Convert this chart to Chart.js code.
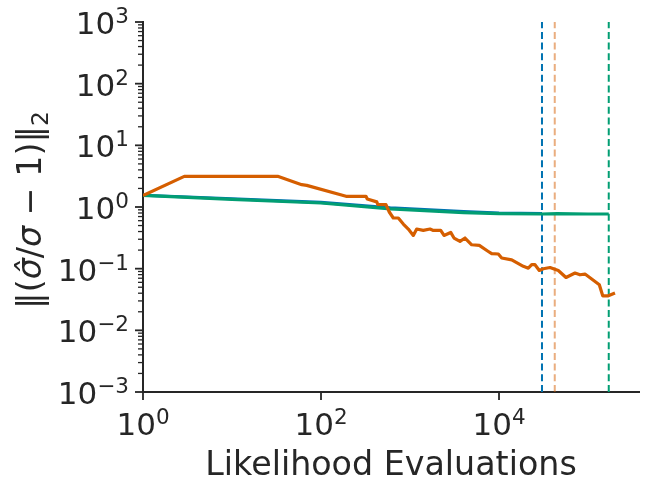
<!DOCTYPE html>
<html>
<head>
<meta charset="utf-8">
<script src="https://cdn.jsdelivr.net/npm/chart.js@4.4.1/dist/chart.umd.min.js"></script>
<style>
    html, body { margin: 0; padding: 0; background: #fff; }
</style>
</head>
<body>
<canvas id="chart" width="648" height="487"></canvas>
<script>
// Data (log-log)
const orangeX = [1, 2.91, 32.6, 60.7, 69.1, 191, 320, 331, 423, 434, 537, 585, 649, 739, 841, 957,
    1089, 1189, 1410, 1678, 1828, 2213, 2410, 2866, 3121, 3645, 4150, 4932, 6010, 7585, 8280, 9820,
    10720, 13890, 18760, 21340, 23290, 25370, 28370, 31470, 37410, 46370, 56580, 71450, 81300,
    92500, 119900, 134000, 146300, 169200, 201000]
const orangeY = [1.54, 3.14, 3.14, 2.30, 2.24, 1.49, 1.49, 1.35, 1.21, 1.10, 1.09, 0.83, 0.663, 0.663,
    0.530, 0.439, 0.346, 0.439, 0.417, 0.439, 0.417, 0.417, 0.346, 0.387, 0.314, 0.277, 0.314, 0.244,
    0.238, 0.190, 0.175, 0.173, 0.149, 0.139, 0.109, 0.102, 0.116, 0.116, 0.0935, 0.0996, 0.1045,
    0.0935, 0.0720, 0.0849, 0.0796, 0.0817, 0.0620, 0.0548, 0.0363, 0.0363, 0.0402]

const blueX = [1, 10, 100, 600, 4000, 10000, 30400]
const blueY = [1.55, 1.36, 1.19, 0.965, 0.84, 0.80, 0.785]

const greenX = [1, 10, 100, 600, 4000, 10000, 30000, 45000, 100000, 171000]
const greenY = [1.54, 1.33, 1.16, 0.93, 0.81, 0.78, 0.77, 0.78, 0.77, 0.77]

// vertical dashed markers (blue, light orange, green)
const vlineX = [30400, 42300, 171000]

const xTickExp = [0, 2, 4]
const yTickExp = [-3, -2, -1, 0, 1, 2, 3]

const xLabel = 'Likelihood Evaluations'

const INK = '#262626'
const FONT = '"DejaVu Sans"'
const TICK_SIZE = 31
const SUP_SIZE = 21.5
const SUP_RAISE = 11
const LABEL_SIZE = 33.3

function toPoints(xs, ys) {
    return xs.map((x, i) => ({ x: x, y: ys[i] }))
}

function vline(x, color, order) {
    return {
        data: [{ x: x, y: 1e-3 }, { x: x, y: 1e3 }],
        borderColor: color,
        borderWidth: 2,
        borderDash: [7, 3.7],
        pointRadius: 0,
        order: order
    }
}

function drawPower(ctx, exp, x, baseline, align) {
    const sup = exp < 0 ? '\u2212' + (-exp) : String(exp)
    ctx.font = `${TICK_SIZE}px ${FONT}`
    const w1 = ctx.measureText('10').width
    ctx.font = `${SUP_SIZE}px ${FONT}`
    const w2 = ctx.measureText(sup).width
    const total = w1 + w2
    const left = align === 'right' ? x - total : x - total / 2
    ctx.textAlign = 'left'
    ctx.textBaseline = 'alphabetic'
    ctx.font = `${TICK_SIZE}px ${FONT}`
    ctx.fillText('10', left, baseline)
    ctx.font = `${SUP_SIZE}px ${FONT}`
    ctx.fillText(sup, left + w1, baseline - SUP_RAISE)
}

function tick(ctx, x1, y1, x2, y2, w) {
    ctx.lineWidth = w
    ctx.beginPath()
    ctx.moveTo(x1, y1)
    ctx.lineTo(x2, y2)
    ctx.stroke()
}

// ticks, tick labels and axis titles drawn matplotlib-style
const axisDecor = {
    id: 'axisDecor',
    afterDraw(chart) {
        const { ctx, chartArea, scales } = chart
        const xs = scales.x
        const ys = scales.y
        ctx.save()
        ctx.strokeStyle = INK
        ctx.fillStyle = INK

        yTickExp.forEach((k) => {
            const py = ys.getPixelForValue(Math.pow(10, k))
            tick(ctx, chartArea.left - 8, py, chartArea.left, py, 1.8)
            if (k < yTickExp[yTickExp.length - 1]) {
                for (let m = 2; m <= 9; m++) {
                    const pm = ys.getPixelForValue(m * Math.pow(10, k))
                    tick(ctx, chartArea.left - 5, pm, chartArea.left, pm, 1.3)
                }
            }
            drawPower(ctx, k, chartArea.left - 14, py + 12, 'right')
        })

        xTickExp.forEach((k) => {
            const px = xs.getPixelForValue(Math.pow(10, k))
            tick(ctx, px, chartArea.bottom, px, chartArea.bottom + 8, 1.8)
            drawPower(ctx, k, px, chartArea.bottom + 43, 'center')
        })

        // x title
        ctx.font = `${LABEL_SIZE}px ${FONT}`
        ctx.textAlign = 'center'
        ctx.textBaseline = 'alphabetic'
        ctx.fillText(xLabel, (chartArea.left + chartArea.right) / 2, 475)

        // y title: ‖(σ̂/σ − 1)‖₂
        const pieces = [
            ['\u2016(', 'normal', 0, LABEL_SIZE],
            ['\u03c3\u0302', 'oblique', 0, LABEL_SIZE],
            ['/', 'normal', 0, LABEL_SIZE],
            ['\u03c3', 'oblique', 0, LABEL_SIZE],
            [' \u2212 1)\u2016', 'normal', 0, LABEL_SIZE],
            ['2', 'normal', 7, LABEL_SIZE * 0.7]
        ]
        let total = 0
        pieces.forEach((p) => {
            ctx.font = `${p[1] === 'oblique' ? 'oblique ' : ''}${p[3]}px ${FONT}`
            p.push(ctx.measureText(p[0]).width)
            total += p[4]
        })
        ctx.translate(41, (chartArea.top + chartArea.bottom) / 2 + 3)
        ctx.rotate(-Math.PI / 2)
        ctx.textAlign = 'left'
        let cx = -total / 2
        pieces.forEach((p) => {
            ctx.font = `${p[1] === 'oblique' ? 'oblique ' : ''}${p[3]}px ${FONT}`
            ctx.fillText(p[0], cx, p[2])
            cx += p[4]
        })
        ctx.restore()
    }
}

const ctx = document.getElementById('chart')

new Chart(ctx, {
    type: 'line',
    data: {
        datasets: [
            {
                data: toPoints(orangeX, orangeY),
                borderColor: '#d55e00',
                borderWidth: 3.2,
                pointRadius: 0,
                borderJoinStyle: 'round',
                order: 0
            },
            {
                data: toPoints(greenX, greenY),
                borderColor: '#029e73',
                borderWidth: 3.2,
                pointRadius: 0,
                borderJoinStyle: 'round',
                order: 1
            },
            {
                data: toPoints(blueX, blueY),
                borderColor: '#0173b2',
                borderWidth: 3.2,
                pointRadius: 0,
                borderJoinStyle: 'round',
                order: 2
            },
            vline(vlineX[0], '#0173b2', 3),
            vline(vlineX[1], 'rgba(213, 94, 0, 0.5)', 4),
            vline(vlineX[2], '#029e73', 5)
        ]
    },
    options: {
        responsive: false,
        animation: false,
        layout: { padding: { top: 22, right: 9, left: 0, bottom: 0 } },
        plugins: {
            legend: { display: false },
            tooltip: { enabled: false }
        },
        scales: {
            x: {
                type: 'logarithmic',
                min: 1,
                max: 374000,
                grid: { display: false },
                ticks: { display: false },
                border: { display: true, color: INK, width: 2 },
                afterFit: (scale) => { scale.height = 95 }
            },
            y: {
                type: 'logarithmic',
                min: 1e-3,
                max: 1e3,
                grid: { display: false },
                ticks: { display: false },
                border: { display: true, color: INK, width: 2 },
                afterFit: (scale) => { scale.width = 143 }
            }
        }
    },
    plugins: [axisDecor]
})
</script>
</body>
</html>
